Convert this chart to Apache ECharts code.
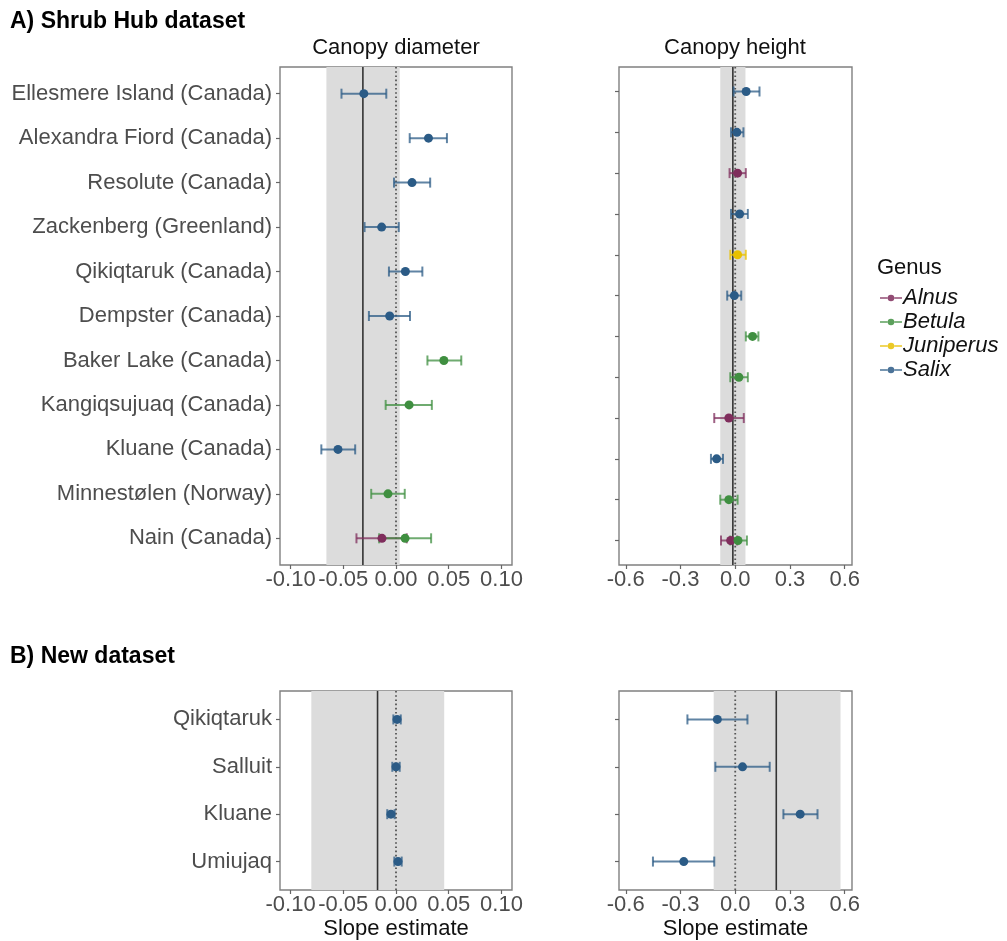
<!DOCTYPE html>
<html>
<head>
<meta charset="utf-8">
<title>Shrub trait slopes</title>
<script src="https://cdn.jsdelivr.net/npm/echarts@6/dist/echarts.min.js"></script>
<style>
  html, body { margin: 0; padding: 0; background: #ffffff; }
  #chart { width: 1007px; height: 941px; }
</style>
</head>
<body>
<div id="chart"></div>
<script>
// ---- Shrub Hub dataset: canopy diameter (one row per site) ----
const sitesA = [
  'Ellesmere Island (Canada)', 'Alexandra Fiord (Canada)', 'Resolute (Canada)',
  'Zackenberg (Greenland)', 'Qikiqtaruk (Canada)', 'Dempster (Canada)',
  'Baker Lake (Canada)', 'Kangiqsujuaq (Canada)', 'Kluane (Canada)',
  'Minnestølen (Norway)', 'Nain (Canada)'
];
const diamRow   = [0, 1, 2, 3, 4, 5, 6, 7, 8, 9, 10, 10];
const diamGenus = ['Salix', 'Salix', 'Salix', 'Salix', 'Salix', 'Salix',
                   'Betula', 'Betula', 'Salix', 'Betula', 'Alnus', 'Betula'];
const diamEst = [-0.0305, 0.0308, 0.0152, -0.0136, 0.0089, -0.0060,
                 0.0454, 0.0124, -0.0550, -0.0076, -0.0133, 0.0086];
const diamLo  = [-0.0517, 0.0130, -0.0019, -0.0298, -0.0067, -0.0257,
                 0.0298, -0.0098, -0.0708, -0.0235, -0.0375, -0.0160];
const diamHi  = [-0.0092, 0.0483, 0.0324, 0.0026, 0.0250, 0.0133,
                 0.0619, 0.0340, -0.0387, 0.0083, 0.0102, 0.0333];
// overall estimate, lower, upper
const diamOverall = [-0.0314, -0.0660, 0.0035];

// ---- Shrub Hub dataset: canopy height (twelve rows) ----
const heightRowCount = 12;
const heightRow   = [0, 1, 2, 3, 4, 5, 6, 7, 8, 9, 10, 11, 11];
const heightGenus = ['Salix', 'Salix', 'Alnus', 'Salix', 'Juniperus', 'Salix',
                     'Betula', 'Betula', 'Alnus', 'Salix', 'Betula', 'Alnus', 'Betula'];
const heightEst = [0.060, 0.009, 0.013, 0.024, 0.013, -0.005,
                   0.095, 0.020, -0.035, -0.102, -0.035, -0.025, 0.015];
const heightLo  = [-0.009, -0.023, -0.031, -0.023, -0.027, -0.044,
                   0.058, -0.027, -0.115, -0.133, -0.082, -0.078, -0.027];
const heightHi  = [0.133, 0.045, 0.058, 0.069, 0.058, 0.033,
                   0.127, 0.069, 0.047, -0.067, 0.013, 0.011, 0.064];
const heightOverall = [-0.013, -0.082, 0.056];

// ---- New dataset (all Salix) ----
const sitesB = ['Qikiqtaruk', 'Salluit', 'Kluane', 'Umiujaq'];
const newRow = [0, 1, 2, 3];
const newGenus = ['Salix', 'Salix', 'Salix', 'Salix'];
const newDiamEst = [0.0010, 0.0000, -0.0048, 0.0019];
const newDiamLo  = [-0.0025, -0.0035, -0.0083, -0.0016];
const newDiamHi  = [0.0045, 0.0035, -0.0013, 0.0054];
const newDiamOverall = [-0.0175, -0.0803, 0.0457];

const newHeightEst = [-0.098, 0.040, 0.356, -0.282];
const newHeightLo  = [-0.262, -0.109, 0.264, -0.451];
const newHeightHi  = [0.067, 0.189, 0.451, -0.115];
const newHeightOverall = [0.225, -0.118, 0.577];

// ---- Axis ticks ----
const diamTicks = [-0.10, -0.05, 0.00, 0.05, 0.10];
const heightTicks = [-0.6, -0.3, 0.0, 0.3, 0.6];

const genera = ['Alnus', 'Betula', 'Juniperus', 'Salix'];
const genusColor = {
  Alnus: '#7f2d5c',
  Betula: '#3f8f40',
  Juniperus: '#e8c000',
  Salix: '#2b5b86'
};

const FONT = 'Liberation Sans, Arial, sans-serif';
const AXIS_TEXT = '#4d4d4d';
const FRAME = '#808080';

const grids = [
  { left: 280, top: 67, width: 232, height: 498 },
  { left: 619, top: 67, width: 233, height: 498 },
  { left: 280, top: 691, width: 232, height: 199 },
  { left: 619, top: 691, width: 233, height: 199 }
].map(g => Object.assign({
  show: true, borderColor: FRAME, borderWidth: 1.4, backgroundColor: 'transparent',
  containLabel: false, outerBoundsMode: 'none'
}, g));

function xAxisCfg(gridIndex, min, max, ticks, decimals, withName) {
  const cfg = {
    gridIndex, type: 'value', min, max, position: 'bottom',
    splitLine: { show: false },
    axisLine: { show: false, onZero: false },
    axisTick: { show: true, length: 4, customValues: ticks, lineStyle: { color: '#666', width: 1.2 } },
    axisLabel: {
      customValues: ticks, margin: 4, fontSize: 22, color: AXIS_TEXT, fontFamily: FONT,
      formatter: v => v.toFixed(decimals)
    }
  };
  if (withName) {
    Object.assign(cfg, {
      name: 'Slope estimate', nameLocation: 'middle', nameGap: 28,
      nameTextStyle: { fontSize: 22, color: '#111', fontFamily: FONT }
    });
  }
  return cfg;
}

function yAxisCfg(gridIndex, n, labels) {
  const vals = Array.from({ length: n }, (_, i) => i);
  return {
    gridIndex, type: 'value', inverse: true, min: -0.6, max: n - 1 + 0.6, position: 'left',
    splitLine: { show: false },
    axisLine: { show: false, onZero: false },
    axisTick: { show: true, length: 4, customValues: vals, lineStyle: { color: '#666', width: 1.2 } },
    axisLabel: {
      show: !!labels, customValues: vals, margin: 8, fontSize: 22, color: AXIS_TEXT, fontFamily: FONT,
      formatter: v => labels ? labels[Math.round(v)] : ''
    }
  };
}

// Shaded interval, overall estimate (solid) and zero (dotted)
function referenceSeries(idx, overall) {
  return {
    type: 'custom', xAxisIndex: idx, yAxisIndex: idx, z: 1, silent: true,
    data: [[overall[1], overall[2], overall[0], 0]],
    encode: { x: [0, 1, 2], y: 3 },
    renderItem: (params, api) => {
      const cs = params.coordSys;
      const xl = api.coord([api.value(0), 0])[0];
      const xh = api.coord([api.value(1), 0])[0];
      const xe = api.coord([api.value(2), 0])[0];
      const x0 = api.coord([0, 0])[0];
      return {
        type: 'group',
        children: [
          { type: 'rect', shape: { x: xl, y: cs.y, width: xh - xl, height: cs.height },
            style: { fill: '#dcdcdc' } },
          { type: 'line', shape: { x1: xe, y1: cs.y, x2: xe, y2: cs.y + cs.height },
            style: { stroke: '#333333', lineWidth: 1.6 } },
          { type: 'line', shape: { x1: x0, y1: cs.y, x2: x0, y2: cs.y + cs.height },
            style: { stroke: '#555555', lineWidth: 1.8, lineDash: [1.6, 2.6] } }
        ]
      };
    }
  };
}

function errorbarItem(params, api) {
  const y = api.value(2);
  const a = api.coord([api.value(0), y]);
  const b = api.coord([api.value(1), y]);
  const cap = 5;
  const color = api.visual('color');
  const st = { stroke: color, lineWidth: 2, opacity: 0.75 };
  return {
    type: 'group',
    children: [
      { type: 'line', shape: { x1: a[0], y1: a[1], x2: b[0], y2: b[1] }, style: st },
      { type: 'line', shape: { x1: a[0], y1: a[1] - cap, x2: a[0], y2: a[1] + cap }, style: st },
      { type: 'line', shape: { x1: b[0], y1: b[1] - cap, x2: b[0], y2: b[1] + cap }, style: st }
    ]
  };
}

function panelSeries(idx, rows, genus, est, lo, hi) {
  const out = [];
  genera.forEach(g => {
    const ids = rows.map((_, i) => i).filter(i => genus[i] === g);
    if (!ids.length) return;
    out.push({
      name: g, type: 'custom', xAxisIndex: idx, yAxisIndex: idx, z: 3,
      itemStyle: { color: genusColor[g] },
      data: ids.map(i => [lo[i], hi[i], rows[i]]),
      encode: { x: [0, 1], y: 2 },
      renderItem: errorbarItem
    });
    out.push({
      name: g, type: 'scatter', xAxisIndex: idx, yAxisIndex: idx, z: 4,
      symbol: 'circle', symbolSize: 9,
      itemStyle: { color: genusColor[g], opacity: 1 },
      data: ids.map(i => [est[i], rows[i]])
    });
  });
  return out;
}

const series = [
  referenceSeries(0, diamOverall),
  referenceSeries(1, heightOverall),
  referenceSeries(2, newDiamOverall),
  referenceSeries(3, newHeightOverall),
  ...panelSeries(0, diamRow, diamGenus, diamEst, diamLo, diamHi),
  ...panelSeries(1, heightRow, heightGenus, heightEst, heightLo, heightHi),
  ...panelSeries(2, newRow, newGenus, newDiamEst, newDiamLo, newDiamHi),
  ...panelSeries(3, newRow, newGenus, newHeightEst, newHeightLo, newHeightHi)
];

// legend key: a short line with a dot in the middle
const keyIcon = 'path://M0,9.1 L8.6,9.1 L8.6,10.9 L0,10.9 Z M15.4,9.1 L24,9.1 L24,10.9 L15.4,10.9 Z ' +
                'M8.4,10 A3.6,3.6 0 1,0 15.6,10 A3.6,3.6 0 1,0 8.4,10 Z';

const option = {
  animation: false,
  backgroundColor: '#ffffff',
  grid: grids,
  xAxis: [
    xAxisCfg(0, -0.11, 0.11, diamTicks, 2, false),
    xAxisCfg(1, -0.637, 0.64, heightTicks, 1, false),
    xAxisCfg(2, -0.11, 0.11, diamTicks, 2, true),
    xAxisCfg(3, -0.637, 0.64, heightTicks, 1, true)
  ],
  yAxis: [
    yAxisCfg(0, sitesA.length, sitesA),
    yAxisCfg(1, heightRowCount, null),
    yAxisCfg(2, sitesB.length, sitesB),
    yAxisCfg(3, sitesB.length, null)
  ],
  legend: {
    orient: 'vertical', left: 875, top: 282,
    itemWidth: 22, itemHeight: 7, itemGap: 2,
    selectedMode: false,
    textStyle: { fontSize: 22, fontStyle: 'italic', color: '#111', fontFamily: FONT, padding: [0, 0, 0, -4] },
    data: genera.map(g => ({ name: g, icon: keyIcon, itemStyle: { color: genusColor[g], opacity: 0.85 } }))
  },
  graphic: [
    { type: 'text', left: 10, top: 10, style: { text: 'A) Shrub Hub dataset', font: 'bold 23px ' + FONT, fill: '#000' } },
    { type: 'text', left: 10, top: 645, style: { text: 'B) New dataset', font: 'bold 23px ' + FONT, fill: '#000' } },
    { type: 'text', x: 396, y: 48, style: { text: 'Canopy diameter', font: '22px ' + FONT, fill: '#111', align: 'center', verticalAlign: 'middle' } },
    { type: 'text', x: 735, y: 48, style: { text: 'Canopy height', font: '22px ' + FONT, fill: '#111', align: 'center', verticalAlign: 'middle' } },
    { type: 'text', x: 877, y: 268, style: { text: 'Genus', font: '22px ' + FONT, fill: '#111', align: 'left', verticalAlign: 'middle' } }
  ],
  series
};

const chart = echarts.init(document.getElementById('chart'), null, { renderer: 'canvas' });
chart.setOption(option);
</script>
</body>
</html>
